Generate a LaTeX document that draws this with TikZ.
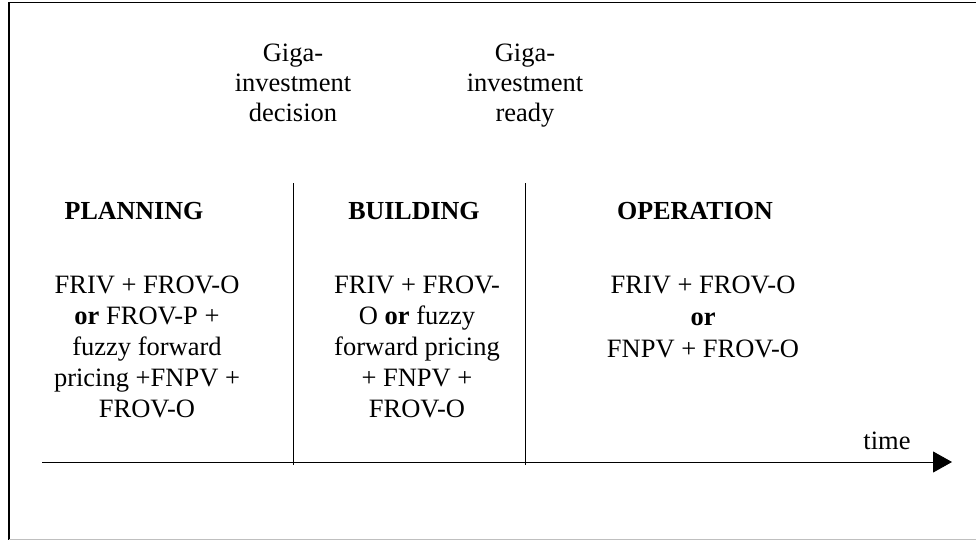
\documentclass[tikz,border=0pt]{standalone}
\usepackage{fontspec}
\setmainfont{Liberation Serif}
\usetikzlibrary{arrows.meta}
\begin{document}
\begin{tikzpicture}[x=1pt,y=-1pt,
  txt/.style={font=\fontsize{26.5}{31}\selectfont, align=center, inner sep=0pt, anchor=base},
  hdr/.style={font=\fontsize{26}{31}\selectfont\bfseries, inner sep=0pt, anchor=base},
  frame/.style={line width=1.5pt, black},
  divider/.style={line width=1pt, black},
  axis/.style={line width=1pt, black, -{Triangle[length=19pt,width=21pt]}}]
\useasboundingbox (0,0) rectangle (976,540);
% frame
\coordinate (ftl) at (9,2.5);
\coordinate (ftr) at (976,2.5);
\coordinate (fbl) at (9,540);
\draw[frame] (ftr) -- (ftl) -- (fbl);
\coordinate (gbl) at (9,539);
\coordinate (gbr) at (976,539);
\draw[line width=1pt, black!25] (gbl) -- (gbr);
% milestone labels (anchored at last baseline)
\node[txt, font=\fontsize{26.5}{30}\selectfont] (top1) at (293,122) {Giga-\\investment\\decision};
\node[txt, font=\fontsize{26.5}{30}\selectfont] (top2) at (525,122) {Giga-\\investment\\ready};
% dividers
\coordinate (v1a) at (293,183);
\coordinate (v1b) at (293,465);
\coordinate (v2a) at (525,183);
\coordinate (v2b) at (525,465);
\draw[divider] (v1a) -- (v1b);
\draw[divider] (v2a) -- (v2b);
% headers
\node[hdr] (hplan) at (134,219) {PLANNING};
\node[hdr] (hbuild) at (414,219) {BUILDING};
\node[hdr] (hop) at (695,219) {OPERATION};
% bodies (anchored at last baseline)
\node[txt] (bplan) at (147,417) {FRIV + FROV-O\\\textbf{or} FROV-P +\\fuzzy forward\\pricing +FNPV +\\FROV-O};
\node[txt] (bbuild) at (417,417) {FRIV + FROV-\\O \textbf{or} fuzzy\\forward pricing\\+ FNPV +\\FROV-O};
\node[txt, font=\fontsize{26.5}{32}\selectfont] (bop) at (703,357) {FRIV + FROV-O\\\textbf{or}\\FNPV + FROV-O};
% axis
\coordinate (ax0) at (42,462);
\coordinate (ax1) at (952,462);
\draw[axis] (ax0) -- (ax1);
\node[txt] (time) at (887,449) {time};
\end{tikzpicture}
\end{document}
